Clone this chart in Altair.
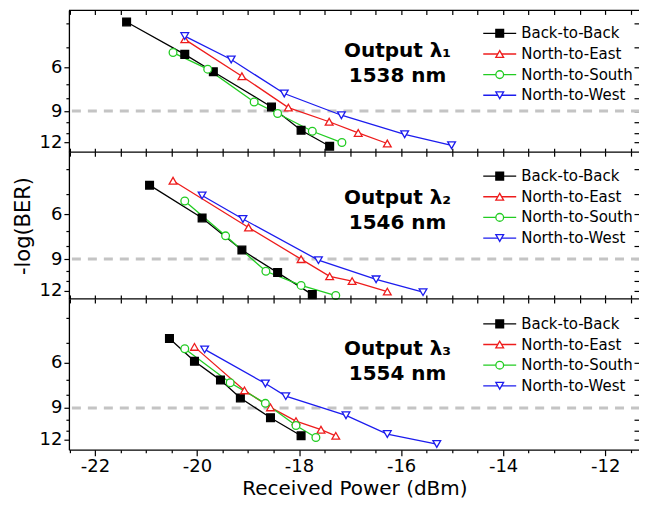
import altair as alt
import pandas as pd

SERIES = ["Back-to-Back", "North-to-East", "North-to-South", "North-to-West"]
COLORS = ["#000000", "#ee1c1c", "#22cc22", "#1c1cee"]
FILLS = ["#000000", "#ffffff", "#ffffff", "#ffffff"]
SHAPES = ["square", "triangle-up", "circle", "triangle-down"]

# Panel 1 : Output lambda1, 1538 nm
p1_b2b_x = [-21.38, -20.24, -19.68, -18.54, -17.96, -17.40]
p1_b2b_y = [3.95, 5.33, 6.26, 8.66, 10.74, 12.45]
p1_n2e_x = [-20.24, -19.12, -18.21, -17.41, -16.84, -16.27]
p1_n2e_y = [4.64, 6.52, 8.71, 9.93, 11.01, 12.14]
p1_n2s_x = [-20.47, -19.79, -18.88, -18.42, -17.74, -17.16]
p1_n2s_y = [5.24, 6.11, 8.27, 9.20, 10.84, 12.03]
p1_n2w_x = [-20.24, -19.33, -18.29, -17.17, -15.93, -15.01]
p1_n2w_y = [4.50, 5.59, 7.65, 9.35, 11.15, 12.34]

# Panel 2 : Output lambda2, 1546 nm
p2_b2b_x = [-20.93, -19.90, -19.12, -18.42, -17.74]
p2_b2b_y = [4.62, 6.21, 8.30, 10.17, 12.41]
p2_n2e_x = [-20.47, -18.99, -17.96, -17.40, -16.96, -16.27]
p2_n2e_y = [4.44, 6.77, 9.01, 10.52, 10.98, 12.07]
p2_n2s_x = [-20.24, -19.44, -18.65, -17.96, -17.28]
p2_n2s_y = [5.33, 7.30, 10.05, 11.42, 12.51]
p2_n2w_x = [-19.90, -19.10, -17.62, -16.49, -15.57]
p2_n2w_y = [5.07, 6.27, 9.09, 10.81, 12.14]

# Panel 3 : Output lambda3, 1554 nm
p3_b2b_x = [-20.54, -20.05, -19.54, -19.15, -18.56, -17.96]
p3_b2b_y = [4.81, 5.91, 7.00, 8.22, 9.82, 11.56]
p3_n2e_x = [-20.05, -19.07, -18.56, -18.06, -17.57, -17.28]
p3_n2e_y = [5.19, 7.68, 8.95, 10.13, 10.94, 11.56]
p3_n2s_x = [-20.24, -19.35, -18.66, -18.06, -17.67]
p3_n2s_y = [5.28, 7.17, 8.63, 10.54, 11.74]
p3_n2w_x = [-19.85, -18.66, -18.26, -17.08, -16.27, -15.30]
p3_n2w_y = [5.31, 7.22, 8.09, 9.61, 11.38, 12.45]

PANEL_LABELS = ["Output λ₁\n1538 nm", "Output λ₂\n1546 nm", "Output λ₃\n1554 nm"]
BER_LIMIT = 9
X_DOMAIN = [-22.511, -11.317]
Y_DOMAINS = [[3.55, 13.15], [3.43, 12.9], [3.37, 13.1]]
X_TICKS = [v / 2 for v in range(-45, -22)]
Y_MAJOR = [6, 9, 12]
Y_MINOR = [4, 5, 7, 8, 10, 11]
Y_ALL = [4, 5, 6, 7, 8, 9, 10, 11, 12]

W = 572
HEIGHTS = [142, 147, 151]
FONT = "DejaVu Sans"

panels_data = [
    [(p1_b2b_x, p1_b2b_y), (p1_n2e_x, p1_n2e_y), (p1_n2s_x, p1_n2s_y), (p1_n2w_x, p1_n2w_y)],
    [(p2_b2b_x, p2_b2b_y), (p2_n2e_x, p2_n2e_y), (p2_n2s_x, p2_n2s_y), (p2_n2w_x, p2_n2w_y)],
    [(p3_b2b_x, p3_b2b_y), (p3_n2e_x, p3_n2e_y), (p3_n2s_x, p3_n2s_y), (p3_n2w_x, p3_n2w_y)],
]
TEXT_Y = [41, 46, 50]
LEG_TOP = [23, 24, 25]

cscale = alt.Scale(domain=SERIES, range=COLORS)
fscale = alt.Scale(domain=SERIES, range=FILLS)
sscale = alt.Scale(domain=SERIES, range=SHAPES)


def xtick(big, small):
    return {"condition": {"test": "datum.value % 2 === 0", "value": big}, "value": small}


def make_panel(k):
    rows = []
    for name, (xv, yv) in zip(SERIES, panels_data[k]):
        for a, b in zip(xv, yv):
            rows.append({"series": name, "x": a, "y": b})
    df = pd.DataFrame(rows)
    xs = alt.Scale(domain=X_DOMAIN, nice=False, zero=False)
    ys = alt.Scale(type="log", domain=Y_DOMAINS[k], reverse=True, nice=False)
    last = k == 2

    if last:
        xaxis = alt.Axis(orient="bottom", values=X_TICKS, tickSize=xtick(6, 3),
                         labelExpr="datum.value % 2 === 0 ? '' + datum.value : ''",
                         labelPadding=2, title="Received Power (dBm)", titlePadding=3,
                         titleFontSize=20)
    else:
        xaxis = alt.Axis(orient="bottom", values=X_TICKS, tickSize=4, offset=-4,
                         labels=False, domain=False, title=None)
    yaxis = alt.Axis(orient="left", values=Y_MAJOR, tickSize=5,
                     labelExpr="'' + datum.value",
                     labelPadding=2, title="-log(BER)" if k == 1 else None, titlePadding=6)

    base = alt.Chart(df)
    one = alt.Chart(pd.DataFrame({"a": [0]}))
    rule = alt.Chart(pd.DataFrame({"level": [BER_LIMIT]})).mark_rule(
        color="#c4c4c4", strokeWidth=3, strokeDash=[9, 7]
    ).encode(y=alt.Y("level:Q", scale=ys, axis=None))
    top_line = one.mark_rule(color="black", strokeWidth=1.3).encode(y=alt.value(0))

    lines = base.mark_line(strokeWidth=1.3).encode(
        x=alt.X("x:Q", scale=xs, axis=xaxis),
        y=alt.Y("y:Q", scale=ys, axis=yaxis),
        color=alt.Color("series:N", scale=cscale, legend=None),
    )
    pts = base.mark_point(size=60, strokeWidth=1.3, opacity=1).encode(
        x=alt.X("x:Q", scale=xs, axis=None),
        y=alt.Y("y:Q", scale=ys, axis=None),
        shape=alt.Shape("series:N", scale=sscale, legend=None),
        stroke=alt.Stroke("series:N", scale=cscale, legend=None),
        fill=alt.Fill("series:N", scale=fscale, legend=None),
    )
    minor_left = base.mark_point(opacity=0).encode(
        y=alt.Y("y:Q", scale=ys, axis=alt.Axis(orient="left", values=Y_MINOR, tickSize=3,
                                                labels=False, domain=False, title=None)),
    )
    frame = base.mark_point(opacity=0).encode(
        x=alt.X("x:Q", scale=xs, axis=alt.Axis(orient="top", values=X_TICKS, tickSize=4, offset=-4,
                                                labels=False, domain=False, title=None)),
        y=alt.Y("y:Q", scale=ys, axis=alt.Axis(orient="right", values=Y_ALL, tickSize=6, offset=-6,
                                                labels=False, domain=False, title=None)),
    )
    text = alt.Chart(pd.DataFrame({"label": [PANEL_LABELS[k]]})).mark_text(
        font=FONT, fontWeight="bold", fontSize=20, lineBreak="\n", lineHeight=25,
        align="center", baseline="middle", color="black"
    ).encode(
        x=alt.X(datum=-16.07, type="quantitative", scale=xs, axis=None),
        y=alt.value(TEXT_Y[k]),
        text="label:N",
    )

    leg = alt.Chart(pd.DataFrame({"series": SERIES}))
    t0 = LEG_TOP[k]
    ly = alt.Y("series:N", scale=alt.Scale(type="point", domain=SERIES, range=[t0, t0 + 62], padding=0),
               axis=None)
    leg_rule = leg.mark_rule(strokeWidth=1.3).encode(
        x=alt.value(415), x2=alt.value(448), y=ly,
        color=alt.Color("series:N", scale=cscale, legend=None),
    )
    leg_pts = leg.mark_point(size=60, strokeWidth=1.3, opacity=1).encode(
        x=alt.value(431.5), y=ly,
        shape=alt.Shape("series:N", scale=sscale, legend=None),
        stroke=alt.Stroke("series:N", scale=cscale, legend=None),
        fill=alt.Fill("series:N", scale=fscale, legend=None),
    )
    leg_txt = leg.mark_text(font=FONT, fontSize=15, align="left", baseline="middle", color="black").encode(
        x=alt.value(453), y=ly, text="series:N"
    )

    return alt.layer(rule, top_line, lines, pts, text, leg_rule, leg_pts, leg_txt, minor_left, frame).resolve_scale(
        y="independent"
    ).resolve_axis(x="independent", y="independent").properties(width=W, height=HEIGHTS[k])


chart = alt.vconcat(make_panel(0), make_panel(1), make_panel(2), spacing=0, bounds="flush").properties(
    padding={"left": 4, "top": 1, "right": -3, "bottom": 0}
).configure_view(strokeWidth=0).configure_axis(
    labelFont=FONT, labelFontSize=18, labelColor="black",
    titleFont=FONT, titleFontSize=21, titleFontWeight="normal", titleColor="black",
    tickColor="black", tickWidth=1.2, domainColor="black", domainWidth=1.3, grid=False,
)

chart.save("out.html", embed_options={"renderer": "svg", "actions": False})
